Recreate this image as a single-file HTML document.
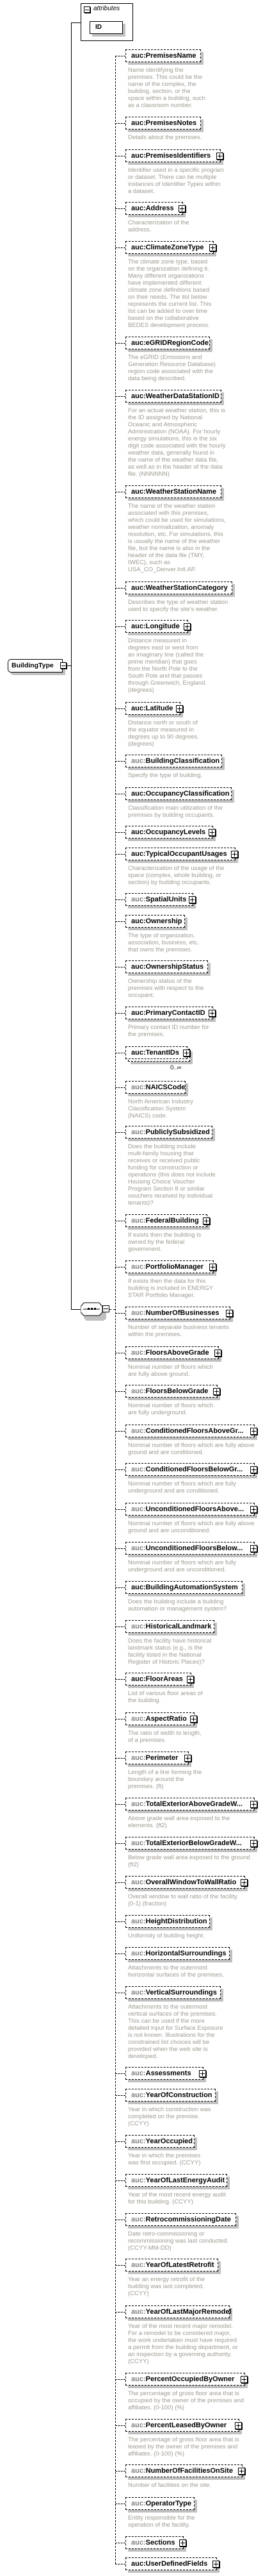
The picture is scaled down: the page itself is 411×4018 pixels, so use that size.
<!DOCTYPE html>
<html><head><meta charset="utf-8"><style>
body{margin:0;width:411px;height:4018px;position:relative;background:#fff;font-family:"Liberation Sans",sans-serif;overflow:hidden}
.e{position:absolute;left:196px;height:20px;border:1px dashed #000;background:#fff;box-shadow:4px 4px 0 #c0c0c0;font:bold 11px "Liberation Sans",sans-serif;line-height:18px;padding-left:8px;box-sizing:border-box;white-space:nowrap;color:#000}
.e:before{content:"";position:absolute;left:-17px;top:9px;width:16px;border-top:1px dashed #000}
.e .g{color:#808080}
.e i{position:absolute;right:-5px;top:4px;width:9px;height:9px;border:1px solid #000;background:#fff;box-shadow:1px 1px 0 #000}
.e i:before{content:"";position:absolute;left:1px;top:4px;width:7px;height:1px;background:#000}
.e i:after{content:"";position:absolute;left:4px;top:1px;width:1px;height:7px;background:#000}
.d{position:absolute;left:200px;color:#a09a92;font:9.5px "Liberation Sans",sans-serif;line-height:11px;white-space:nowrap}
.line{position:absolute;background:#000}
</style></head><body>
<!-- attributes -->
<div style="position:absolute;left:126px;top:5px;width:82px;height:59px;border:1px solid #000;box-sizing:border-box"></div>
<div style="position:absolute;left:131px;top:10px;width:10px;height:10px;border:1px solid #000;box-sizing:border-box;box-shadow:1px 1px 0 #000"><div style="position:absolute;left:1px;top:4px;width:6px;height:1px;background:#000"></div></div>
<div style="position:absolute;left:146px;top:8px;font:italic 10px 'Liberation Sans',sans-serif;color:#000">attributes</div>
<div style="position:absolute;left:140px;top:33px;width:52px;height:20px;border:1px solid #000;box-sizing:border-box;background:#fff;box-shadow:4px 4px 0 #c0c0c0;font:bold 10px 'Liberation Sans',sans-serif;line-height:18px;padding-left:8px">ID</div>
<!-- main line -->
<div class="line" style="left:111px;top:35px;width:1px;height:2008px"></div>
<div class="line" style="left:111px;top:35px;width:15px;height:1px"></div>
<div class="line" style="left:104px;top:1038px;width:8px;height:1px"></div>
<div class="line" style="left:111px;top:2042px;width:15px;height:1px"></div>
<!-- BuildingType -->
<div style="position:absolute;left:12px;top:1028px;width:86px;height:21px;border:1px solid #000;border-radius:5px 0 0 5px;box-sizing:border-box;background:#fff;box-shadow:4px 4px 0 #c0c0c0;font:bold 10.5px 'Liberation Sans',sans-serif;line-height:19px;padding-left:5px">BuildingType</div>
<div style="position:absolute;left:94px;top:1033px;width:10px;height:10px;border:1px solid #000;box-sizing:border-box;background:#fff;box-shadow:1px 1px 0 #000"><div style="position:absolute;left:1px;top:4px;width:6px;height:1px;background:#000"></div></div>
<!-- sequence -->
<svg style="position:absolute;left:126px;top:2030px" width="50" height="30">
<polygon points="5,4 29,4 35,10 35,23 29,27 5,27 0,22 0,10" fill="#c0c0c0" transform="translate(5,4)"/>
<polygon points="5,2 29,2 34,8 34,17 29,22 5,22 0,17 0,8" fill="#fff" stroke="#000"/>
<line x1="4" y1="12" x2="30" y2="12" stroke="#000"/>
<rect x="11" y="10" width="3" height="3" fill="#000"/><rect x="16" y="10" width="3" height="3" fill="#000"/><rect x="21" y="10" width="3" height="3" fill="#000"/>
<rect x="34.5" y="6.5" width="10" height="10" fill="#fff" stroke="#000"/><line x1="36" y1="11.5" x2="43" y2="11.5" stroke="#000"/>
</svg>
<div style="position:absolute;left:171px;top:2042px;width:9px;border-top:1px dashed #000"></div>
<!-- bus -->
<div style="position:absolute;left:180px;top:87px;height:3912px;border-left:1px dashed #000"></div>

<div class="e" style="top:77px;width:118px">auc:PremisesName</div>
<div class="d" style="top:104px">Name identifying the<br>premises. This could be the<br>name of the complex, the<br>building, section, or the<br>space within a building, such<br>as a classroom number.</div>
<div class="e" style="top:182px;width:118px">auc:PremisesNotes</div>
<div class="d" style="top:209px">Details about the premises.</div>
<div class="e" style="top:233px;width:149px">auc:PremisesIdentifiers<i></i></div>
<div class="d" style="top:260px">Identifier used in a specific program<br>or dataset. There can be multiple<br>instances of Identifier Types within<br>a dataset.</div>
<div class="e" style="top:315px;width:90px">auc:Address<i></i></div>
<div class="d" style="top:342px">Characterization of the<br>address.</div>
<div class="e" style="top:376px;width:138px">auc:ClimateZoneType<i></i></div>
<div class="d" style="top:403px">The climate zone type, based<br>on the organization defining it.<br>Many different organizations<br>have implemented different<br>climate zone definitions based<br>on their needs. The list below<br>represents the current list. This<br>list can be added to over time<br>based on the collaborative<br>BEDES development process.</div>
<div class="e" style="top:525px;width:132px">auc:eGRIDRegionCode</div>
<div class="d" style="top:552px">The eGRID (Emissions and<br>Generation Resource Database)<br>region code associated with the<br>data being described.</div>
<div class="e" style="top:608px;width:150px">auc:WeatherDataStationID</div>
<div class="d" style="top:635px">For an actual weather station, this is<br>the ID assigned by National<br>Oceanic and Atmospheric<br>Administration (NOAA). For hourly<br>energy simulations, this is the six<br>digit code associated with the hourly<br>weather data, generally found in<br>the name of the weather data file,<br>as well as in the header of the data<br>file. (NNNNNN)</div>
<div class="e" style="top:757px;width:150px">auc:WeatherStationName</div>
<div class="d" style="top:784px">The name of the weather station<br>associated with this premises,<br>which could be used for simulations,<br>weather normalization, anomaly<br>resolution, etc. For simulations, this<br>is usually the name of the weather<br>file, but the name is also in the<br>header of the data file (TMY,<br>IWEC), such as<br>USA_CO_Denver.Intl.AP.</div>
<div class="e" style="top:907px;width:167px">auc:WeatherStationCategory</div>
<div class="d" style="top:934px">Describes the type of weather station<br>used to specify the site's weather.</div>
<div class="e" style="top:967px;width:98px">auc:Longitude<i></i></div>
<div class="d" style="top:994px">Distance measured in<br>degrees east or west from<br>an imaginary line (called the<br>prime meridian) that goes<br>from the North Pole to the<br>South Pole and that passes<br>through Greenwich, England.<br>(degrees)</div>
<div class="e" style="top:1095px;width:86px">auc:Latitude<i></i></div>
<div class="d" style="top:1122px">Distance north or south of<br>the equator measured in<br>degrees up to 90 degrees.<br>(degrees)</div>
<div class="e" style="top:1177px;width:151px"><span class="g">auc:</span>BuildingClassification</div>
<div class="d" style="top:1204px">Specify the type of building.</div>
<div class="e" style="top:1228px;width:166px">auc:OccupancyClassification</div>
<div class="d" style="top:1255px">Classification main utilization of the<br>premises by building occupants.</div>
<div class="e" style="top:1288px;width:137px">auc:OccupancyLevels<i></i></div>
<div class="e" style="top:1322px;width:172px">auc:TypicalOccupantUsages<i></i></div>
<div class="d" style="top:1349px">Characterization of the usage of the<br>space (complex, whole building, or<br>section) by building occupants.</div>
<div class="e" style="top:1393px;width:106px"><span class="g">auc:</span>SpatialUnits<i></i></div>
<div class="e" style="top:1427px;width:93px">auc:Ownership</div>
<div class="d" style="top:1454px">The type of organization,<br>association, business, etc.<br>that owns the premises.</div>
<div class="e" style="top:1498px;width:129px">auc:OwnershipStatus</div>
<div class="d" style="top:1525px">Ownership status of the<br>premises with respect to the<br>occupant.</div>
<div class="e" style="top:1570px;width:137px">auc:PrimaryContactID<i></i></div>
<div class="d" style="top:1597px">Primary contact ID number for<br>the premises.</div>
<div style="position:absolute;left:200px;top:1636px;width:97px;height:20px;border:1px dashed #000;box-sizing:border-box;background:#fff;box-shadow:4px 4px 0 #c0c0c0"></div>
<div class="e" style="top:1632px;width:97px;box-shadow:none">auc:TenantIDs<i></i></div>
<div class="d" style="top:1660px;left:266px;color:#000">0..∞</div>
<div class="e" style="top:1686px;width:94px"><span class="g">auc:</span>NAICSCode</div>
<div class="d" style="top:1713px">North American Industry<br>Classification System<br>(NAICS) code.</div>
<div class="e" style="top:1756px;width:136px"><span class="g">auc:</span>PubliclySubsidized</div>
<div class="d" style="top:1783px">Does the building include<br>multi-family housing that<br>receives or received public<br>funding for construction or<br>operations (this does not include<br>Housing Choice Voucher<br>Program Section 8 or similar<br>vouchers received by individual<br>tenants)?</div>
<div class="e" style="top:1894px;width:128px"><span class="g">auc:</span>FederalBuilding<i></i></div>
<div class="d" style="top:1921px">If exists then the building is<br>owned by the federal<br>government.</div>
<div class="e" style="top:1966px;width:138px"><span class="g">auc:</span>PortfolioManager<i></i></div>
<div class="d" style="top:1993px">If exists then the data for this<br>building is included in ENERGY<br>STAR Portfolio Manager.</div>
<div class="e" style="top:2038px;width:164px"><span class="g">auc:</span>NumberOfBusinesses<i></i></div>
<div class="d" style="top:2065px">Number of separate business tenants<br>within the premises.</div>
<div class="e" style="top:2100px;width:146px"><span class="g">auc:</span>FloorsAboveGrade<i></i></div>
<div class="d" style="top:2127px">Nominal number of floors which<br>are fully above ground.</div>
<div class="e" style="top:2160px;width:144px"><span class="g">auc:</span>FloorsBelowGrade<i></i></div>
<div class="d" style="top:2187px">Nominal number of floors which<br>are fully underground.</div>
<div class="e" style="top:2222px;width:202px"><span class="g">auc:</span>ConditionedFloorsAboveGr...<i></i></div>
<div class="d" style="top:2249px">Nominal number of floors which are fully above<br>ground and are conditioned.</div>
<div class="e" style="top:2282px;width:202px"><span class="g">auc:</span>ConditionedFloorsBelowGr...<i></i></div>
<div class="d" style="top:2309px">Nominal number of floors which are fully<br>underground and are conditioned.</div>
<div class="e" style="top:2344px;width:202px"><span class="g">auc:</span>UnconditionedFloorsAbove...<i></i></div>
<div class="d" style="top:2371px">Nominal number of floors which are fully above<br>ground and are unconditioned.</div>
<div class="e" style="top:2405px;width:202px"><span class="g">auc:</span>UnconditionedFloorsBelow...<i></i></div>
<div class="d" style="top:2432px">Nominal number of floors which are fully<br>underground and are unconditioned.</div>
<div class="e" style="top:2466px;width:183px">auc:BuildingAutomationSystem</div>
<div class="d" style="top:2493px">Does the building include a building<br>automation or management system?</div>
<div class="e" style="top:2527px;width:139px"><span class="g">auc:</span>HistoricalLandmark</div>
<div class="d" style="top:2554px">Does the facility have historical<br>landmark status (e.g., is the<br>facility listed in the National<br>Register of Historic Places)?</div>
<div class="e" style="top:2609px;width:103px">auc:FloorAreas<i></i></div>
<div class="d" style="top:2636px">List of various floor areas of<br>the building.</div>
<div class="e" style="top:2671px;width:108px"><span class="g">auc:</span>AspectRatio<i></i></div>
<div class="d" style="top:2698px">The ratio of width to length,<br>of a premises.</div>
<div class="e" style="top:2732px;width:99px"><span class="g">auc:</span>Perimeter<i></i></div>
<div class="d" style="top:2759px">Length of a line forming the<br>boundary around the<br>premises. (ft)</div>
<div class="e" style="top:2804px;width:202px"><span class="g">auc:</span>TotalExteriorAboveGradeW...<i></i></div>
<div class="d" style="top:2831px">Above grade wall area exposed to the<br>elements. (ft2)</div>
<div class="e" style="top:2865px;width:202px"><span class="g">auc:</span>TotalExteriorBelowGradeW...<i></i></div>
<div class="d" style="top:2892px">Below grade wall area exposed to the ground.<br>(ft2)</div>
<div class="e" style="top:2926px;width:187px"><span class="g">auc:</span>OverallWindowToWallRatio<i></i></div>
<div class="d" style="top:2953px">Overall window to wall ratio of the facility.<br>(0-1) (fraction)</div>
<div class="e" style="top:2987px;width:132px"><span class="g">auc:</span>HeightDistribution</div>
<div class="d" style="top:3014px">Uniformity of building height.</div>
<div class="e" style="top:3037px;width:163px"><span class="g">auc:</span>HorizontalSurroundings</div>
<div class="d" style="top:3064px">Attachments to the outermost<br>horizontal surfaces of the premises.</div>
<div class="e" style="top:3098px;width:149px"><span class="g">auc:</span>VerticalSurroundings</div>
<div class="d" style="top:3125px">Attachments to the outermost<br>vertical surfaces of the premises.<br>This can be used if the more<br>detailed input for Surface Exposure<br>is not known. Illustrations for the<br>constrained list choices will be<br>provided when the web site is<br>developed.</div>
<div class="e" style="top:3224px;width:122px"><span class="g">auc:</span>Assessments<i></i></div>
<div class="e" style="top:3258px;width:141px"><span class="g">auc:</span>YearOfConstruction</div>
<div class="d" style="top:3285px">Year in which construction was<br>completed on the premise.<br>(CCYY)</div>
<div class="e" style="top:3330px;width:108px"><span class="g">auc:</span>YearOccupied</div>
<div class="d" style="top:3357px">Year in which the premises<br>was first occupied. (CCYY)</div>
<div class="e" style="top:3391px;width:159px"><span class="g">auc:</span>YearOfLastEnergyAudit</div>
<div class="d" style="top:3418px">Year of the most recent energy audit<br>for this building. (CCYY)</div>
<div class="e" style="top:3452px;width:173px"><span class="g">auc:</span>RetrocommissioningDate</div>
<div class="d" style="top:3479px">Date retro-commissioning or<br>recommissioning was last conducted.<br>(CCYY-MM-DD)</div>
<div class="e" style="top:3523px;width:145px"><span class="g">auc:</span>YearOfLatestRetrofit</div>
<div class="d" style="top:3550px">Year an energy retrofit of the<br>building was last completed.<br>(CCYY)</div>
<div class="e" style="top:3596px;width:163px"><span class="g">auc:</span>YearOfLastMajorRemodel</div>
<div class="d" style="top:3623px">Year of the most recent major remodel.<br>For a remodel to be considered major,<br>the work undertaken must have required<br>a permit from the building department, or<br>an inspection by a governing authority.<br>(CCYY)</div>
<div class="e" style="top:3701px;width:187px"><span class="g">auc:</span>PercentOccupiedByOwner<i></i></div>
<div class="d" style="top:3728px">The percentage of gross floor area that is<br>occupied by the owner of the premises and<br>affiliates. (0-100) (%)</div>
<div class="e" style="top:3773px;width:178px"><span class="g">auc:</span>PercentLeasedByOwner<i></i></div>
<div class="d" style="top:3800px">The percentage of gross floor area that is<br>leased by the owner of the premises and<br>affiliates. (0-100) (%)</div>
<div class="e" style="top:3844px;width:183px"><span class="g">auc:</span>NumberOfFacilitiesOnSite<i></i></div>
<div class="d" style="top:3871px">Number of facilities on the site.</div>
<div class="e" style="top:3895px;width:108px"><span class="g">auc:</span>OperatorType</div>
<div class="d" style="top:3922px">Entity responsible for the<br>operation of the facility.</div>
<div class="e" style="top:3956px;width:91px"><span class="g">auc:</span>Sections<i></i></div>
<div class="e" style="top:3989px;width:143px">auc:UserDefinedFields<i></i></div>
</body></html>
